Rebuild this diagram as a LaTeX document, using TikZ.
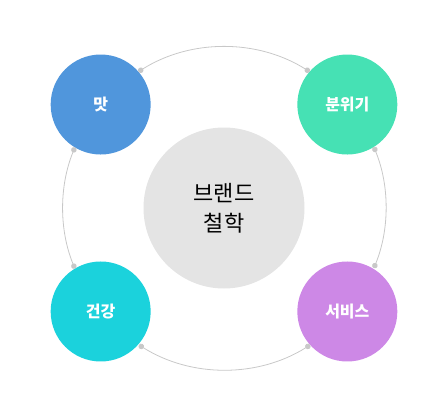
\documentclass[tikz,border=0pt]{standalone}
\usepackage{fontspec}
\setmainfont{Noto Sans CJK KR}
\usepackage{tikz}
\usetikzlibrary{arrows.meta}
\definecolor{TasteBlue}{RGB}{80, 150, 220}
\definecolor{MoodGreen}{RGB}{70, 225, 180}
\definecolor{HealthCyan}{RGB}{27, 210, 220}
\definecolor{ServicePurple}{RGB}{205, 136, 230}
\definecolor{CoreGray}{RGB}{228, 228, 228}
\definecolor{RingGray}{RGB}{200, 200, 200}

\begin{document}
\begin{tikzpicture}[x=1pt, y=1pt,
    petal/.style={circle, minimum size=100pt, inner sep=0pt, outer sep=0pt, text=white, font=\fontsize{16}{19}\selectfont\bfseries},
    cycle/.style={RingGray, line width=0.8pt, {Circle[length=5.5pt]}-{Circle[length=5.5pt]}}]
    \useasboundingbox (-224,-207) rectangle (222,208);

    % Nodes
    \node [circle, fill=CoreGray, minimum size=161pt, inner sep=0pt, align=center, font=\fontsize{22}{30}\selectfont] (core) at (0,0) {브랜드\\철학};
    \node [petal, fill=TasteBlue] (taste) at (140:161) {맛};
    \node [petal, fill=MoodGreen] (mood) at (40:161) {분위기};
    \node [petal, fill=ServicePurple] (service) at (-40:161) {서비스};
    \node [petal, fill=HealthCyan] (health) at (-140:161) {건강};

    % Paths
    \draw[cycle] (taste.41.07) arc[start angle=122.13, end angle=57.87, radius=161pt];
    \draw[cycle] (mood.-58.93) arc[start angle=22.13, end angle=-22.13, radius=161pt];
    \draw[cycle] (service.-138.93) arc[start angle=-57.87, end angle=-122.13, radius=161pt];
    \draw[cycle] (health.121.07) arc[start angle=202.13, end angle=157.87, radius=161pt];
  \end{tikzpicture}
\end{document}
